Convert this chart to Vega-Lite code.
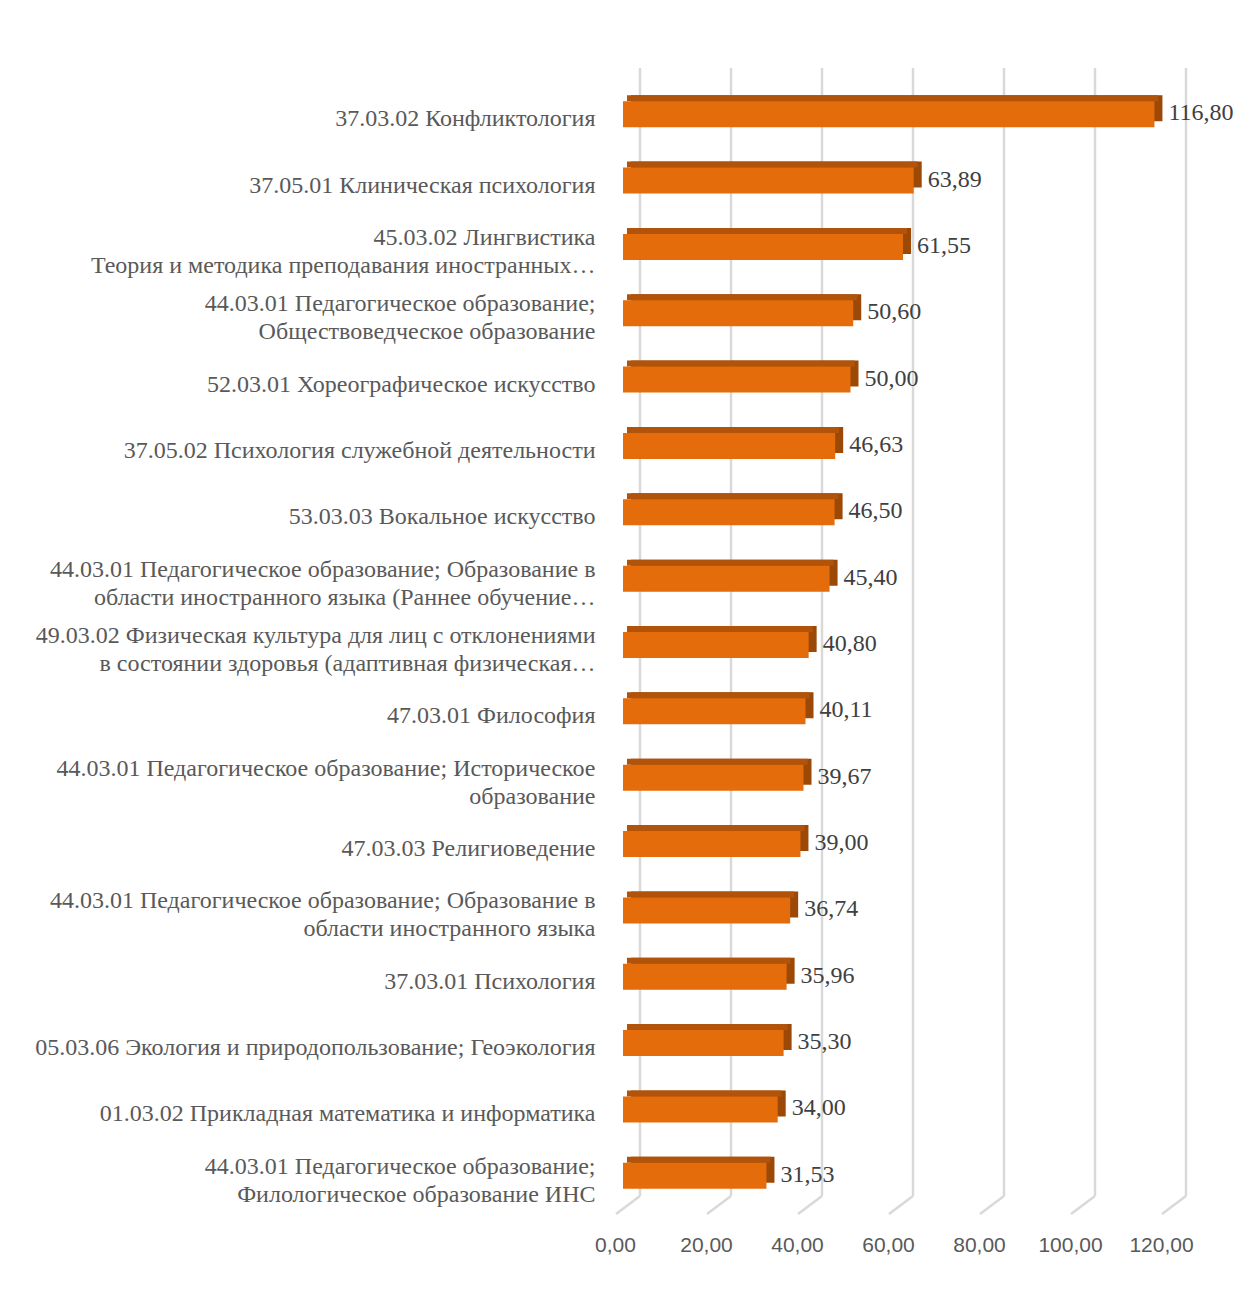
{
  "$schema": "https://vega.github.io/schema/vega-lite/v6.json",
  "width": 546,
  "height": 1128,
  "autosize": {"type": "none"},
  "padding": {"left": 623, "top": 86, "right": 91, "bottom": 82},
  "background": "white",
  "config": {
    "view": {"stroke": null},
    "locale": {"number": {"decimal": ",", "thousands": " ", "grouping": [3], "currency": ["", ""]}}
  },
  "datasets": {
    "bars": [
      {"name": "37.03.02 Конфликтология", "v": 116.80},
      {"name": "37.05.01 Клиническая психология", "v": 63.89},
      {"name": "45.03.02 Лингвистика\nТеория и методика преподавания иностранных…", "v": 61.55},
      {"name": "44.03.01 Педагогическое образование;\nОбществоведческое образование", "v": 50.60},
      {"name": "52.03.01 Хореографическое искусство", "v": 50.00},
      {"name": "37.05.02 Психология служебной деятельности", "v": 46.63},
      {"name": "53.03.03 Вокальное искусство", "v": 46.50},
      {"name": "44.03.01 Педагогическое образование; Образование в\nобласти иностранного языка (Раннее обучение…", "v": 45.40},
      {"name": "49.03.02 Физическая культура для лиц с отклонениями\nв состоянии здоровья (адаптивная физическая…", "v": 40.80},
      {"name": "47.03.01 Философия", "v": 40.11},
      {"name": "44.03.01 Педагогическое образование; Историческое\nобразование", "v": 39.67},
      {"name": "47.03.03 Религиоведение", "v": 39.00},
      {"name": "44.03.01 Педагогическое образование; Образование в\nобласти иностранного языка", "v": 36.74},
      {"name": "37.03.01 Психология", "v": 35.96},
      {"name": "05.03.06 Экология и природопользование; Геоэкология", "v": 35.30},
      {"name": "01.03.02 Прикладная математика и информатика", "v": 34.00},
      {"name": "44.03.01 Педагогическое образование;\nФилологическое образование ИНС", "v": 31.53}
    ],
    "grid": [
      {"g": 0}, {"g": 20}, {"g": 40}, {"g": 60}, {"g": 80}, {"g": 100}, {"g": 120}
    ]
  },
  "layer": [
    {
      "data": {"name": "grid"},
      "mark": {"type": "rule", "color": "#D9D9D9", "strokeWidth": 2.5, "xOffset": 17, "yOffset": -18, "y2Offset": -18},
      "encoding": {
        "x": {"field": "g", "type": "quantitative", "scale": {"domain": [0, 120], "nice": false},
          "axis": {"title": null, "grid": false, "ticks": false, "domain": false, "values": [0, 20, 40, 60, 80, 100, 120], "format": ".2f", "labelPadding": 20, "labelOffset": -8, "labelFlush": false, "labelOverlap": false, "labelFont": "Liberation Sans", "labelFontSize": 21, "labelColor": "#595959"}},
        "y": {"value": 0},
        "y2": {"value": "height"}
      }
    },
    {
      "data": {"name": "grid"},
      "mark": {"type": "rule", "color": "#D9D9D9", "strokeWidth": 2.5, "xOffset": 17, "x2Offset": -7, "yOffset": -18},
      "encoding": {
        "x": {"field": "g", "type": "quantitative"},
        "x2": {"field": "g"},
        "y": {"value": "height"},
        "y2": {"value": "height"}
      }
    },
    {
      "data": {"name": "bars"},
      "mark": {"type": "bar", "color": "#9C4807", "size": 26, "xOffset": 8, "x2Offset": 8, "yOffset": -11},
      "encoding": {
        "y": {"field": "name", "type": "nominal", "sort": null, "scale": {"paddingInner": 0, "paddingOuter": 0},
          "axis": {"title": null, "ticks": false, "domain": false, "labelPadding": 28, "labelFont": "Liberation Serif", "labelFontSize": 24, "labelColor": "#595959", "labelLimit": 800, "labelLineHeight": 28, "labelExpr": "split(datum.label, '\\n')",
            "labelOffset": {"expr": "indexof(datum.label, '\\n') >= 0 ? -14 : 0"}}},
        "x": {"field": "v", "type": "quantitative"}
      }
    },
    {
      "data": {"name": "bars"},
      "mark": {"type": "bar", "color": "#B1530A", "size": 6, "xOffset": 4, "x2Offset": 4, "yOffset": -21},
      "encoding": {
        "y": {"field": "name", "type": "nominal", "sort": null},
        "x": {"field": "v", "type": "quantitative"}
      }
    },
    {
      "data": {"name": "bars"},
      "mark": {"type": "bar", "color": "#E46C0A", "size": 26, "yOffset": -5},
      "encoding": {
        "y": {"field": "name", "type": "nominal", "sort": null},
        "x": {"field": "v", "type": "quantitative"}
      }
    },
    {
      "data": {"name": "bars"},
      "mark": {"type": "text", "align": "left", "baseline": "middle", "xOffset": 14, "yOffset": -6, "font": "Liberation Serif", "fontSize": 24, "color": "#404040"},
      "encoding": {
        "y": {"field": "name", "type": "nominal", "sort": null},
        "x": {"field": "v", "type": "quantitative"},
        "text": {"field": "v", "type": "quantitative", "format": ".2f"}
      }
    }
  ]
}
